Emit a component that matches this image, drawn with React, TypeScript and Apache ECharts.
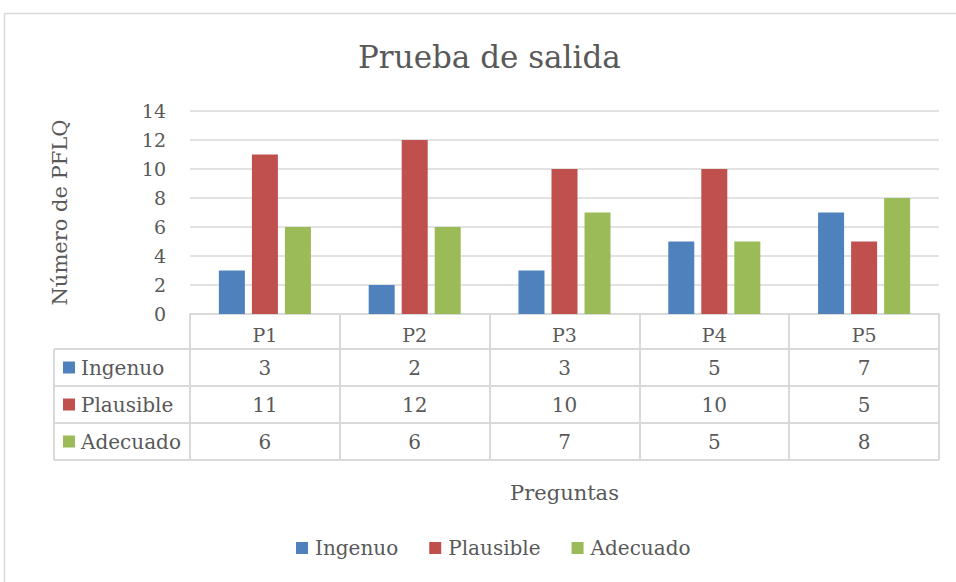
import React, { useEffect, useRef } from "react";
import * as echarts from "echarts";

const categories = ["P1", "P2", "P3", "P4", "P5"];
const seriesNames = ["Ingenuo", "Plausible", "Adecuado"];
const ingenuo = [3, 2, 3, 5, 7];
const plausible = [11, 12, 10, 10, 5];
const adecuado = [6, 6, 7, 5, 8];
const yTicks = [0, 2, 4, 6, 8, 10, 12, 14];
const colors = ["#4f81bd", "#c0504d", "#9bbb59"];

const FONT = "'DejaVu Serif', 'Liberation Serif', serif";
const TXT = "#595959";
const LINE = "#d9d9d9";

const W = 956;
const H = 582;
const GRID_L = 190;
const GRID_R = 939;
const GRID_T = 111;
const GRID_B = 314;
const ROW_H = 37;
const HEADER_B = 349;
const TABLE_L = 54;

export default function App() {
  const ref = useRef<HTMLDivElement>(null);
  useEffect(() => {
    if (!ref.current) return;
    const chart = echarts.init(ref.current, undefined, { renderer: "svg" });
    const data = [ingenuo, plausible, adecuado];
    const colW = (GRID_R - GRID_L) / categories.length;
    const tableBottom = HEADER_B + ROW_H * seriesNames.length;

    const graphics: any[] = [];
    graphics.push({
      type: "rect",
      shape: { x: 4.5, y: 13.5, width: 1000, height: 1000 },
      style: { fill: "none", stroke: LINE, lineWidth: 1.5 },
      silent: true,
    });
    for (let r = 0; r <= seriesNames.length; r++) {
      const y = HEADER_B + r * ROW_H;
      graphics.push({
        type: "line",
        shape: { x1: TABLE_L, y1: y, x2: GRID_R, y2: y },
        style: { stroke: LINE, lineWidth: 2 },
      });
    }
    graphics.push({
      type: "line",
      shape: { x1: TABLE_L, y1: HEADER_B, x2: TABLE_L, y2: tableBottom },
      style: { stroke: LINE, lineWidth: 2 },
    });
    seriesNames.forEach((name, r) => {
      const cy = HEADER_B + r * ROW_H + ROW_H / 2;
      graphics.push({
        type: "rect",
        shape: { x: 63, y: cy - 6, width: 12, height: 12 },
        style: { fill: colors[r] },
      });
      graphics.push({
        type: "text",
        x: 81,
        y: cy,
        style: {
          text: name,
          font: `20px ${FONT}`,
          fill: TXT,
          textVerticalAlign: "middle",
          textAlign: "left",
        },
      });
      data[r].forEach((v, c) => {
        graphics.push({
          type: "text",
          x: GRID_L + colW * (c + 0.5),
          y: cy,
          style: {
            text: String(v),
            font: `20px ${FONT}`,
            fill: TXT,
            textVerticalAlign: "middle",
            textAlign: "center",
          },
        });
      });
    });

    chart.setOption({
      animation: false,
      title: {
        text: "Prueba de salida",
        left: 353,
        top: 36,
        textStyle: { fontFamily: FONT, fontSize: 31, fontWeight: "normal", color: TXT },
      },
      grid: { left: GRID_L, right: W - GRID_R, top: GRID_T, bottom: H - GRID_B, containLabel: false },
      legend: {
        data: seriesNames,
        bottom: 19,
        left: 291,
        itemWidth: 12,
        itemHeight: 12,
        itemGap: 31,
        icon: "rect",
        textStyle: { fontFamily: FONT, fontSize: 20, color: TXT, padding: [0, 0, 0, 2] },
      },
      xAxis: {
        type: "category",
        data: categories,
        name: "Preguntas",
        nameLocation: "middle",
        nameGap: 168,
        nameTextStyle: { fontFamily: FONT, fontSize: 21, color: TXT },
        axisLine: { show: true, lineStyle: { color: LINE, width: 2 } },
        axisTick: { show: true, length: tableBottom - GRID_B, lineStyle: { color: LINE, width: 2 } },
        axisLabel: { fontFamily: FONT, fontSize: 19, color: TXT, margin: 11 },
      },
      yAxis: {
        type: "value",
        min: yTicks[0],
        max: yTicks[yTicks.length - 1],
        interval: 2,
        name: "Número de PFLQ",
        nameLocation: "middle",
        nameRotate: 90,
        nameGap: 120,
        nameTextStyle: { fontFamily: FONT, fontSize: 21, color: TXT },
        axisLine: { show: false },
        axisTick: { show: false },
        axisLabel: { fontFamily: FONT, fontSize: 19, color: TXT, margin: 24 },
        splitLine: { lineStyle: { color: LINE, width: 1.5 } },
      },
      series: seriesNames.map((name, i) => ({
        name,
        type: "bar",
        data: data[i],
        barWidth: 26,
        barGap: "27%",
        itemStyle: { color: colors[i] },
      })),
      graphic: graphics,
    });
    return () => chart.dispose();
  }, []);
  return <div ref={ref} style={{ width: W, height: H, position: "absolute", left: 0, top: 0 }} />;
}
